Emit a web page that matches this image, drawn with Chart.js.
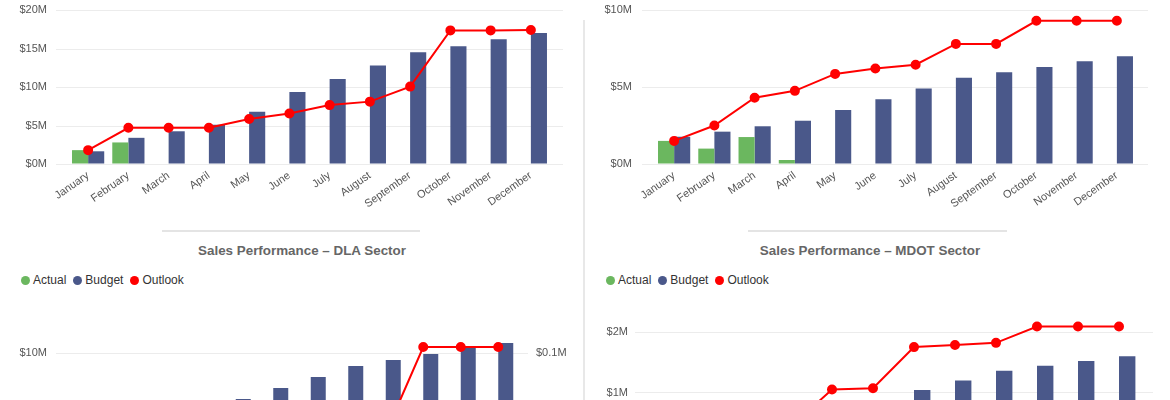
<!DOCTYPE html>
<html>
<head>
<meta charset="utf-8">
<script src="https://cdn.jsdelivr.net/npm/chart.js@4.4.1/dist/chart.umd.min.js"></script>
<style>
  html, body { margin:0; padding:0; width:1170px; height:400px; overflow:hidden; background:#fff; font-family:"Liberation Sans", Arial, sans-serif; }
  canvas { position:absolute; }
  .divider { position:absolute; left:583px; top:20px; width:2px; height:380px; background:#e8e8e8; }
  .sep { position:absolute; top:230px; height:2px; background:#e4e4e4; }
  .title { position:absolute; top:250px; font-weight:bold; font-size:13.4px; color:#666; white-space:nowrap; transform:translate(-50%,-50%); }
  .legend { position:absolute; top:280px; display:flex; align-items:center; font-size:12px; color:#333; transform:translateY(-50%); white-space:nowrap; }
  .legend .dot { width:9px; height:9px; border-radius:50%; display:inline-block; margin-right:3px; }
  .legend .lbl { margin-right:7px; }
</style>
</head>
<body>
<canvas id="topLeft" width="584" height="215" style="left:0;top:0"></canvas>
<canvas id="topRight" width="580" height="215" style="left:590px;top:0"></canvas>
<canvas id="dla" width="584" height="200" style="left:0;top:300px"></canvas>
<canvas id="mdot" width="580" height="200" style="left:590px;top:300px"></canvas>

<div class="divider"></div>
<div class="sep" style="left:162px;width:258px"></div>
<div class="sep" style="left:748px;width:259px"></div>
<div class="title" style="left:302px">Sales Performance – DLA Sector</div>
<div class="title" style="left:870px">Sales Performance – MDOT Sector</div>
<div class="legend" id="legendDla" style="left:21px"></div>
<div class="legend" id="legendMdot" style="left:606px"></div>

<script>
const months = ["January", "February", "March", "April", "May", "June", "July", "August", "September", "October", "November", "December"];

// values in $M
const topLeftActual = [1.8, 2.8, null, null, null, null, null, null, null, null, null, null];
const topLeftBudget = [1.65, 3.4, 4.25, 5.1, 6.8, 9.35, 11.05, 12.8, 14.5, 15.3, 16.2, 17.0];
const topLeftOutlook = [1.8, 4.7, 4.7, 4.7, 5.85, 6.55, 7.65, 8.1, 10.05, 17.35, 17.35, 17.4];

const topRightActual = [1.5, 1.0, 1.75, 0.26, null, null, null, null, null, null, null, null];
const topRightBudget = [1.77, 2.1, 2.45, 2.81, 3.5, 4.2, 4.9, 5.6, 5.95, 6.3, 6.67, 7.0];
const topRightOutlook = [1.5, 2.5, 4.3, 4.75, 5.85, 6.2, 6.45, 7.8, 7.8, 9.3, 9.3, 9.3];

const dlaActual = [1.2, 1.8, 2.0, 0.5, null, null, null, null, null, null, null, null];
const dlaBudget = [1.5, 2.6, 3.5, 4.4, 5.4, 6.5, 7.6, 8.7, 9.3, 9.9, 10.5, 11.0];
const dlaOutlook = [0.006, 0.01, 0.012, 0.014, 0.016, 0.017, 0.018, 0.019, 0.02, 0.106, 0.106, 0.106];

const mdotActual = [0.15, 0.1, 0.17, 0.03, null, null, null, null, null, null, null, null];
const mdotBudget = [0.15, 0.25, 0.35, 0.5, 0.65, 0.8, 1.04, 1.2, 1.36, 1.44, 1.52, 1.6];
const mdotOutlook = [0.1, 0.2, 0.3, 0.44, 1.05, 1.07, 1.75, 1.785, 1.82, 2.09, 2.09, 2.09];

const actualColor = '#6bb75f';
const budgetColor = '#4a588a';
const outlookColor = '#ff0000';
const tickColor = '#555555';

// horizontal grid lines that run a bit past the plot area
const gridLines = {
    id: 'gridLines',
    beforeDatasetsDraw(chart, args, opts) {
        const { ctx, chartArea } = chart;
        const y = chart.scales.y;
        ctx.save();
        ctx.strokeStyle = '#ececec';
        ctx.lineWidth = 1;
        y.ticks.forEach(t => {
            const py = Math.round(y.getPixelForValue(t.value)) + 0.5;
            ctx.beginPath();
            ctx.moveTo(chartArea.left - opts.extL, py);
            ctx.lineTo(chartArea.right + opts.extR, py);
            ctx.stroke();
        });
        ctx.restore();
    }
};

function onlySteps(step) {
    return scale => {
        scale.ticks = scale.ticks.filter(t => Math.abs(t.value / step - Math.round(t.value / step)) < 1e-6);
    };
}

// gap between label and plot comes from an invisible tick mark,
// ticks.padding would also push the plot area down
function valueAxis(position, max, step, width, gap) {
    return {
        position: position,
        min: 0,
        max: max,
        grid: { display: true, drawOnChartArea: false, drawTicks: true, tickLength: gap, tickColor: 'rgba(0,0,0,0)' },
        border: { display: false },
        ticks: {
            stepSize: step,
            padding: 0,
            color: tickColor,
            font: { size: 11 },
            callback: v => '$' + v + 'M'
        },
        afterBuildTicks: onlySteps(step),
        afterFit: s => { s.width = width; }
    };
}

function buildChart(id, c) {
    const canvas = document.getElementById(id);
    const W = canvas.width, H = canvas.height;
    const scales = {
        x: {
            grid: { display: false, drawTicks: false },
            border: { display: false },
            ticks: { color: tickColor, font: { size: 11 }, minRotation: 35, maxRotation: 35, autoSkip: false, padding: 5 },
            afterFit: s => { s.height = H - c.B; }
        },
        y: valueAxis('left', c.yMax, c.yStep, c.L, c.yPad)
    };
    if (c.y1Max) {
        scales.y1 = valueAxis('right', c.y1Max, c.y1Step, W - c.R, c.y1Pad);
    }

    return new Chart(canvas, {
        type: 'bar',
        data: {
            labels: months,
            datasets: [
                { label: 'Actual', data: c.actual, backgroundColor: actualColor, order: 1 },
                { label: 'Budget', data: c.budget, backgroundColor: budgetColor, order: 1 },
                {
                    type: 'line', label: 'Outlook', data: c.outlook, yAxisID: c.y1Max ? 'y1' : 'y',
                    borderColor: outlookColor, backgroundColor: outlookColor, borderWidth: 2,
                    pointRadius: 4, pointHoverRadius: 4, order: 0
                }
            ]
        },
        options: {
            responsive: false,
            animation: false,
            events: [],
            categoryPercentage: 0.8,
            barPercentage: 1.0,
            layout: { padding: { left: 0, right: c.y1Max ? 0 : W - c.R, top: c.T, bottom: 0 } },
            scales: scales,
            plugins: {
                legend: { display: false },
                tooltip: { enabled: false },
                gridLines: { extL: c.extL, extR: c.extR }
            }
        },
        plugins: [gridLines]
    });
}

buildChart('topLeft', {
    actual: topLeftActual, budget: topLeftBudget, outlook: topLeftOutlook,
    L: 68, R: 551, T: 10, B: 164, yMax: 20, yStep: 5, yPad: 21, extL: 12, extR: 12
});

buildChart('topRight', {
    actual: topRightActual, budget: topRightBudget, outlook: topRightOutlook,
    L: 64, R: 547, T: 10, B: 164, yMax: 10, yStep: 5, yPad: 22, extL: 12, extR: 11
});

buildChart('dla', {
    actual: dlaActual, budget: dlaBudget, outlook: dlaOutlook,
    L: 67, R: 517, T: 33, B: 153, yMax: 12, yStep: 10, yPad: 20,
    y1Max: 0.12, y1Step: 0.1, y1Pad: 19, extL: 11, extR: 11
});

buildChart('mdot', {
    actual: mdotActual, budget: mdotBudget, outlook: mdotOutlook,
    L: 57.5, R: 549.5, T: 12, B: 153, yMax: 2.33, yStep: 1, yPad: 19.5, extL: 12.5, extR: 13.5
});

// legends above the lower charts
function buildLegend(id) {
    const items = [['Actual', actualColor], ['Budget', budgetColor], ['Outlook', outlookColor]];
    document.getElementById(id).innerHTML = items.map(([name, color]) =>
        '<span class="dot" style="background:' + color + '"></span><span class="lbl">' + name + '</span>'
    ).join('');
}
buildLegend('legendDla');
buildLegend('legendMdot');
</script>
</body>
</html>
